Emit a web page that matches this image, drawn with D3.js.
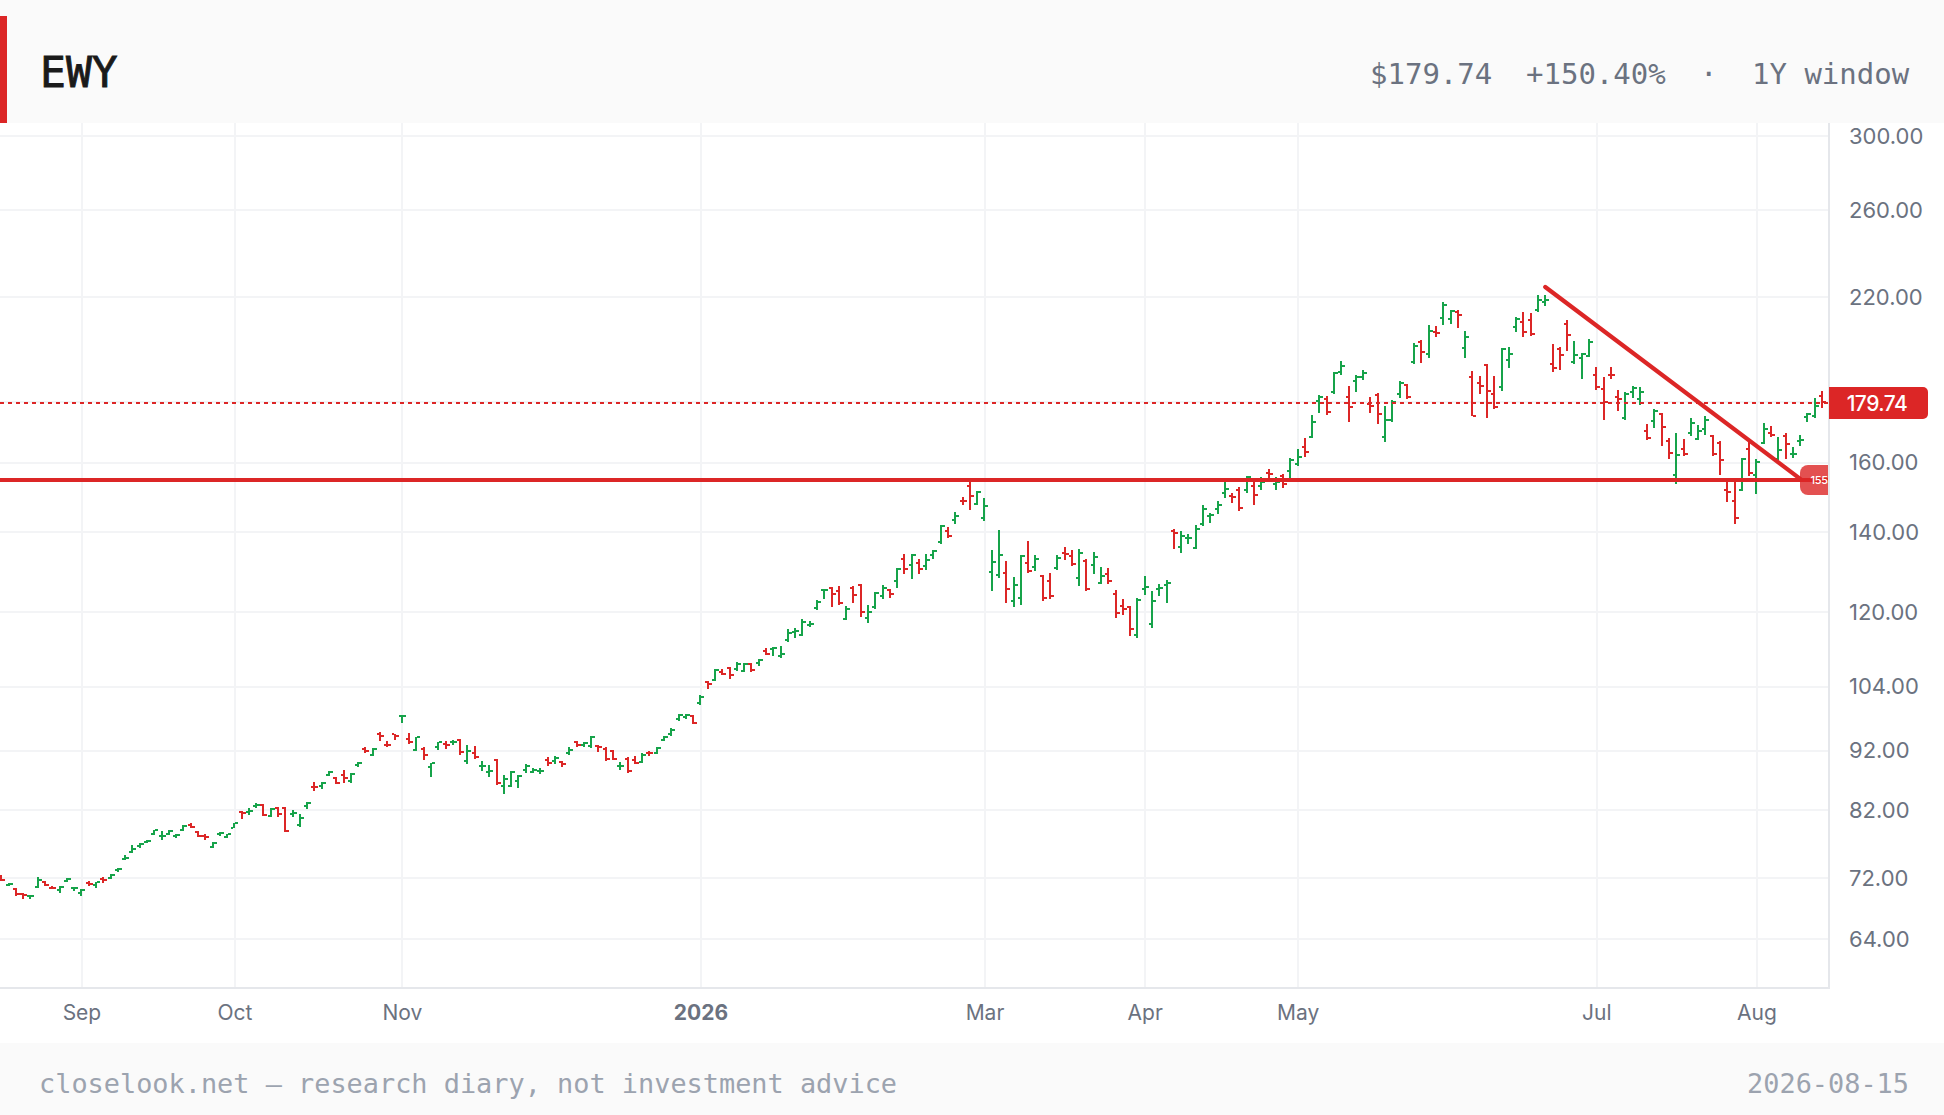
<!DOCTYPE html>
<html><head><meta charset="utf-8">
<script src="https://cdn.jsdelivr.net/npm/d3@7"></script>
<style>
html,body{margin:0;padding:0;background:#fff;overflow:hidden}
svg{display:block}
</style></head><body>
<svg id="c" width="1944" height="1115"></svg>
<script>
const opens=[72.2,71.0,70.5,69.8,69.5,70.8,71.4,70.7,70.3,71.6,70.6,69.9,71.3,71.1,71.9,72.0,73.1,74.7,75.7,76.6,77.2,78.4,78.0,78.3,78.0,79.0,79.8,78.7,78.0,76.5,78.3,77.9,79.3,81.7,81.8,82.7,82.9,81.2,82.4,82.4,81.5,79.8,82.7,85.8,85.9,87.8,87.2,87.7,86.7,89.5,92.3,91.3,94.9,93.0,94.9,98.3,94.1,92.1,92.2,89.1,92.6,93.1,93.5,93.9,90.2,91.5,
89.3,88.3,90.3,85.9,85.9,86.8,88.7,88.3,88.4,90.3,90.2,90.0,91.6,93.6,93.0,92.8,92.9,92.3,92.0,89.3,90.5,90.4,90.0,91.6,91.6,93.9,94.9,97.7,98.1,98.3,100.8,104.9,105.4,107.1,107.8,107.6,107.2,108.7,108.8,111.5,111.8,110.4,113.8,115.5,115.0,117.2,
121.1,125.3,125.8,125.1,118.5,125.8,126.4,118.8,121.2,123.9,125.3,127.5,133.0,131.4,131.9,131.2,134.0,137.4,140.3,143.4,148.7,153.1,147.9,
143.9,129.7,129.0,129.4,122.7,123.4,131.9,131.0,128.6,127.5,130.7,134.5,133.8,128.2,132.4,131.4,127.0,129.2,124.3,121.6,121.2,114.8,125.5,117.4,125.5,126.5,140.3,136.1,138.4,135.8,142.3,144.5,146.4,151.1,150.1,152.0,151.9,153.1,153.1,156.9,153.6,156.0,157.5,159.6,165.1,
168.2,180.2,181.0,183.4,190.6,
181.7,187.2,188.7,179.2,182.3,168.2,173.8,182.7,185.8,194.2,201.9,197.3,205.8,211.4,211.0,213.9,199.6,188.8,186.5,193.1,182.7,185.2,195.0,207.8,209.8,210.6,214.7,218.1,193.5,199.2,208.9,194.2,195.8,196.5,189.5,184.5,189.5,181.7,174.4,183.4,
181.0,170.2,173.5,175.7,166.9,156.3,164.3,169.4,167.5,170.7,168.5,166.2,151.9,148.7,151.9,164.4,156.3,166.2,169.4,161.2,168.5,162.8,166.9,174.6,175.1,182.1];
const highs=[72.4,71.3,70.6,70.0,69.7,72.1,71.6,70.9,70.9,72.0,70.8,70.5,71.6,71.5,72.2,72.5,73.4,75.2,76.75,77.0,77.5,79.0,78.8,79.0,78.3,79.7,80.0,78.8,78.4,77.1,78.6,78.4,80.1,81.9,82.4,83.2,83.0,82.4,82.5,82.5,82.0,81.5,83.3,86.6,86.6,88.5,87.4,88.6,88.2,90.0,92.6,92.4,95.3,93.8,95.0,98.5,95.2,94.5,92.6,89.8,93.6,93.7,93.9,94.0,93.0,92.8,
90.2,89.5,90.5,87.7,88.4,87.7,89.7,88.9,88.9,90.8,91.1,90.2,92.6,93.8,93.5,94.6,93.0,92.6,92.1,90.0,90.8,91.1,91.5,91.9,92.6,94.6,96.1,98.7,98.8,98.5,102.4,105.2,107.6,107.6,108.0,109.1,108.9,108.9,109.7,112.0,112.3,112.5,116.3,116.5,118.5,118.1,
122.9,125.5,126.0,126.3,121.5,126.3,126.7,121.7,124.8,126.5,125.5,130.7,134.2,134.2,133.0,134.2,135.3,142.0,141.4,145.6,149.9,155.3,151.6,
149.6,135.3,140.6,132.4,128.5,134.0,137.7,134.0,129.0,129.5,134.0,136.1,135.3,135.6,133.0,134.8,131.0,130.7,125.3,123.2,121.6,123.4,128.7,125.0,126.8,127.7,140.9,140.3,139.5,142.0,147.5,145.4,148.7,154.5,151.0,152.8,156.0,154.5,155.7,158.1,155.7,156.6,161.6,164.3,167.7,
175.4,182.3,182.0,190.6,194.6,
185.5,189.5,191.3,181.7,183.0,178.5,180.6,187.2,186.2,201.4,202.7,208.6,208.2,218.1,214.7,214.7,206.2,190.9,189.1,193.5,189.1,199.6,200.1,211.8,213.9,213.4,221.0,221.0,201.2,200.0,210.6,202.3,197.5,203.1,192.4,188.7,192.4,184.1,183.4,185.5,
185.1,172.3,177.4,176.1,167.8,169.3,167.5,174.4,172.1,175.1,168.9,166.9,154.5,154.5,161.4,166.9,161.2,172.8,171.7,168.1,169.3,165.0,168.9,176.1,181.3,183.8];
const lows=[71.6,70.9,69.6,69.1,69.1,70.6,70.9,70.5,70.0,71.4,70.2,69.6,70.9,70.7,71.3,71.9,72.9,74.5,75.5,76.3,77.0,78.2,77.4,78.2,77.7,78.8,79.3,77.9,77.5,76.3,78.1,77.7,79.2,80.7,81.3,82.4,81.2,81.0,81.0,78.6,81.0,79.5,82.3,85.2,85.5,87.6,86.2,86.4,86.5,89.2,91.5,91.0,93.7,92.6,93.9,97.1,93.2,91.9,90.4,87.4,92.1,92.3,93.0,91.3,89.7,90.5,
88.5,87.5,86.1,84.7,85.8,85.6,88.1,88.1,87.9,89.3,89.7,89.2,91.3,92.7,92.7,92.5,91.8,90.2,90.4,88.6,88.1,89.7,89.9,91.1,91.4,93.7,94.6,97.3,97.8,96.9,100.4,103.6,105.2,106.4,105.6,107.2,107.0,107.0,108.3,110.5,110.3,110.0,113.3,114.2,114.6,116.7,
120.6,123.1,121.3,121.7,118.3,122.2,119.0,117.6,120.8,123.1,123.4,125.8,129.2,128.0,129.2,130.2,133.0,136.8,138.4,142.3,147.6,146.1,147.6,
143.1,125.0,128.2,122.2,121.3,121.7,129.5,130.0,122.7,123.2,130.2,132.7,131.2,126.2,125.0,129.2,126.8,126.8,118.8,119.4,114.7,114.3,124.1,116.5,123.9,122.2,135.6,134.5,136.8,135.6,141.7,142.5,145.0,149.6,148.1,145.8,151.0,147.5,151.9,155.4,151.9,152.4,154.8,159.0,161.8,
167.8,176.1,175.4,182.7,189.5,
173.1,183.4,187.6,176.1,172.4,166.6,173.1,181.1,180.9,193.5,193.9,195.8,203.9,208.6,208.9,207.5,195.8,175.0,182.7,174.4,177.5,183.7,192.0,205.8,203.9,204.3,213.9,216.4,190.6,191.3,198.4,193.5,188.0,196.1,184.1,173.8,188.0,176.8,173.8,181.3,
178.9,167.1,171.1,165.3,161.3,153.6,162.1,168.5,167.2,168.9,162.1,156.3,148.3,142.3,151.5,156.0,150.8,165.9,168.1,160.9,161.2,161.6,165.3,173.1,174.5,177.8];
const closes=[71.7,71.2,69.8,69.7,69.6,71.8,71.0,70.6,70.8,71.9,70.7,70.3,71.2,71.4,71.8,72.4,73.2,74.9,76.1,76.8,77.3,78.9,78.1,78.8,78.2,79.6,79.4,78.1,77.95,77.0,78.5,78.3,80.0,81.6,81.9,82.9,81.3,82.3,81.4,78.8,81.6,80.8,83.2,85.75,86.4,88.3,86.4,87.2,88.0,89.9,92.0,92.2,94.7,92.95,94.6,98.4,93.5,94.4,91.3,89.8,93.5,93.05,93.6,91.8,92.0,90.9,
89.4,88.4,86.4,87.1,88.3,87.6,89.4,88.7,88.5,89.8,90.7,89.7,92.1,93.0,93.3,94.5,92.6,90.5,90.6,89.4,88.4,89.9,91.3,91.5,92.5,94.4,95.8,98.5,98.5,97.0,102.0,104.6,107.4,106.7,106.4,108.7,108.7,107.4,109.5,110.8,112.1,110.8,115.3,115.8,117.9,117.3,
122.5,125.4,124.3,122.2,120.9,124.1,120.1,120.1,124.6,125.8,124.3,130.5,130.5,133.9,130.5,132.8,135.1,141.7,139.0,144.5,148.6,150.2,151.3,
147.3,132.2,134.0,125.5,126.5,133.8,130.0,132.9,123.4,123.9,133.2,134.3,131.7,134.5,125.5,133.5,128.7,127.5,119.9,120.8,116.2,122.9,126.1,122.7,125.8,127.1,139.9,139.0,138.5,140.9,146.5,144.8,147.5,152.2,149.8,146.7,155.8,150.5,154.2,156.7,154.2,153.6,160.8,161.9,163.4,
173.1,181.6,176.4,190.2,192.9,
178.2,188.7,190.2,178.5,175.7,173.8,179.9,186.4,181.7,200.4,198.0,206.2,205.4,216.7,214.3,212.6,203.9,175.1,185.5,183.7,178.2,199.2,197.4,211.1,205.8,205.0,218.9,218.9,192.0,196.9,204.7,196.9,197.3,201.7,185.2,179.9,189.4,180.9,182.7,184.6,
183.4,167.7,176.9,171.4,163.1,162.5,162.8,172.8,170.1,173.8,162.8,160.9,151.3,143.9,161.2,156.9,160.3,170.7,168.9,164.0,165.9,162.9,167.2,175.7,178.6,179.74];

const gridPrices=[300,260,220,180,160,140,120,104,92,82,72,64];
const priceTicks=[300,260,220,160,140,120,104,92,82,72,64];
const monthBars=[11,32,55,96,135,157,178,219,241];
const monthLabels=["Sep","Oct","Nov","2026","Mar","Apr","May","Jul","Aug"];
const lastPrice=179.74, levelPrice=155;
const trendBars=[212,247.1], trendPrices=[224.4,155];
const upColor="#16a34a", downColor="#dc2626", accent="#dc2626";

const MONO='"DejaVu Sans Mono",monospace', SANS='Inter,sans-serif';
const PLOT_R=1829, PLOT_T=123, PLOT_B=988;
const svg=d3.select("#c");
const x=d3.scaleLinear().domain([0,250]).range([1.3,1822]);
const y=d3.scaleLog().domain([300,64]).range([136,939.3]);
const bars=d3.range(opens.length).map(i=>({i,o:opens[i],h:highs[i],l:lows[i],c:closes[i]}));

svg.append("rect").attr("width",1944).attr("height",1115).attr("fill","#fff");
const defs=svg.append("defs");
defs.append("clipPath").attr("id","plot").append("rect").attr("x",0).attr("y",PLOT_T).attr("width",PLOT_R).attr("height",PLOT_B-PLOT_T);

const grid=svg.append("g").attr("shape-rendering","crispEdges");
grid.selectAll("line.h").data(gridPrices).join("line").attr("class","h")
 .attr("x1",0).attr("x2",PLOT_R).attr("y1",d=>Math.round(y(d))).attr("y2",d=>Math.round(y(d)))
 .attr("stroke","#f3f4f6").attr("stroke-width",2);
grid.selectAll("line.v").data(monthBars).join("line").attr("class","v")
 .attr("x1",d=>Math.round(x(d)+.5)).attr("x2",d=>Math.round(x(d)+.5)).attr("y1",PLOT_T).attr("y2",PLOT_B)
 .attr("stroke","#f3f4f6").attr("stroke-width",2);

const plot=svg.append("g").attr("clip-path","url(#plot)");
const col=d=>d.c>=d.o?upColor:downColor;
const gb=plot.append("g").attr("shape-rendering","crispEdges");
const sel=gb.selectAll("g").data(bars).join("g").attr("fill",col);
const sx=d=>Math.round(x(d.i)-1);
sel.append("rect").attr("x",sx).attr("width",2)
 .attr("y",d=>Math.round(y(d.h))).attr("height",d=>Math.max(2,Math.round(y(d.l))-Math.round(y(d.h))));
sel.append("rect").attr("x",d=>sx(d)-2).attr("width",2).attr("height",2).attr("y",d=>Math.round(y(d.o))-1);
sel.append("rect").attr("x",d=>sx(d)+2).attr("width",3).attr("height",2).attr("y",d=>Math.round(y(d.c))-1);

const ly=Math.ceil(y(lastPrice)), by=Math.ceil(y(levelPrice));
plot.append("line").attr("x1",0).attr("x2",PLOT_R).attr("y1",ly).attr("y2",ly)
 .attr("stroke",accent).attr("stroke-width",2).attr("stroke-dasharray","4 4").attr("shape-rendering","crispEdges");
plot.append("line").attr("x1",0).attr("x2",PLOT_R).attr("y1",by).attr("y2",by)
 .attr("stroke",accent).attr("stroke-width",4).attr("shape-rendering","crispEdges");
plot.append("line").attr("x1",x(trendBars[0])).attr("y1",y(trendPrices[0])).attr("x2",x(trendBars[1])).attr("y2",y(trendPrices[1]))
 .attr("stroke",accent).attr("stroke-width",4.3).attr("stroke-linecap","round");

// level badge
plot.append("path").attr("d",`M${PLOT_R},${by-15}H1808a8,8 0 0 0 -8,8V${by+7}a8,8 0 0 0 8,8H${PLOT_R}Z`)
 .attr("fill",accent).attr("fill-opacity",.8);
plot.append("text").attr("x",1810.5).attr("y",by+4).text("155").attr("fill","#fff")
 .attr("font-family",SANS).attr("font-size",11).attr("font-weight",500).attr("letter-spacing",-0.3);

// axes
const yAxis=d3.axisRight(y).tickValues(priceTicks).tickFormat(d3.format(".2f")).tickSize(0).tickPadding(20);
const ga=svg.append("g").attr("transform",`translate(${PLOT_R},0)`).call(yAxis);
ga.select(".domain").remove();
ga.selectAll("text").attr("font-family",SANS).attr("font-size",22).attr("fill","#6b7280");
const xAxis=d3.axisBottom(x).tickValues(monthBars).tickFormat((d,i)=>monthLabels[i]).tickSize(0).tickPadding(17.5);
const gx=svg.append("g").attr("transform",`translate(0,${PLOT_B})`).call(xAxis);
gx.select(".domain").remove();
gx.selectAll("text").attr("font-family",SANS).attr("font-size",21).attr("fill","#6b7280")
 .attr("font-weight",(d,i)=>monthLabels[i]==="2026"?700:400);
svg.append("rect").attr("x",PLOT_R-1).attr("y",PLOT_T).attr("width",2).attr("height",PLOT_B-PLOT_T+1).attr("fill","#e5e7eb");
svg.append("rect").attr("x",0).attr("y",PLOT_B-1).attr("width",PLOT_R+1).attr("height",2).attr("fill","#e5e7eb");

// last price badge
svg.append("path").attr("d",`M${PLOT_R},${ly-16}H1923a5,5 0 0 1 5,5V${ly+11}a5,5 0 0 1 -5,5H${PLOT_R}Z`).attr("fill",accent);
svg.append("text").attr("x",1877).attr("y",ly+8).attr("text-anchor","middle").text(lastPrice.toFixed(2))
 .attr("fill","#fff").attr("font-family",SANS).attr("font-size",21).attr("font-weight",500).attr("letter-spacing",-0.5);

// header
svg.append("rect").attr("width",1944).attr("height",PLOT_T).attr("fill","#fafafa");
svg.append("rect").attr("y",16).attr("width",7).attr("height",PLOT_T-16).attr("fill",accent);
svg.append("text").attr("x",40).attr("y",87).text("EWY").attr("fill","#1a1a1a").attr("stroke","#1a1a1a").attr("stroke-width",0.9)
 .attr("font-family",MONO).attr("font-size",43).attr("font-weight",400);
const hdr=[["$179.74",1370],["+150.40%",1526],["·",1700],["1Y window",1752]];
svg.selectAll("text.hd").data(hdr).join("text").attr("class","hd").attr("x",d=>d[1]).attr("y",84).text(d=>d[0])
 .attr("fill","#6b7280").attr("font-family",MONO).attr("font-size",29);

// footer
svg.append("rect").attr("y",1043).attr("width",1944).attr("height",72).attr("fill","#fafafa");
svg.append("text").attr("x",39).attr("y",1093).text("closelook.net — research diary, not investment advice")
 .attr("fill","#9ca3af").attr("font-family",MONO).attr("font-size",26.9);
svg.append("text").attr("x",1909).attr("y",1093).attr("text-anchor","end").text("2026-08-15")
 .attr("fill","#9ca3af").attr("font-family",MONO).attr("font-size",26.9);
</script>
</body></html>
